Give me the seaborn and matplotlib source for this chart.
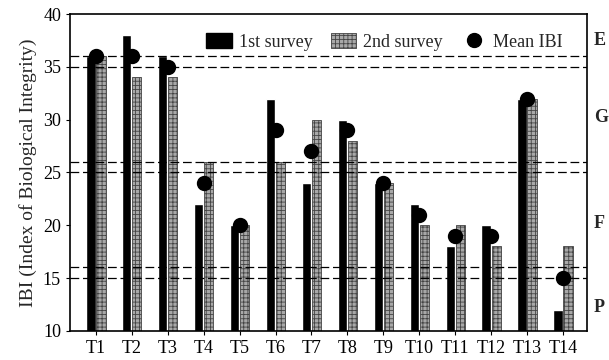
import pandas as pd
import matplotlib.pyplot as plt
import matplotlib.transforms as mtransforms
from matplotlib.patches import Patch
from matplotlib.lines import Line2D
import seaborn as sns

sites = ["T1", "T2", "T3", "T4", "T5", "T6", "T7", "T8", "T9", "T10", "T11", "T12", "T13", "T14"]
survey1 = [36, 38, 36, 22, 20, 32, 24, 30, 24, 22, 18, 20, 32, 12]
survey2 = [36, 34, 34, 26, 20, 26, 30, 28, 24, 20, 20, 18, 32, 18]
mean_ibi = [36, 36, 35, 24, 20, 29, 27, 29, 24, 21, 19, 19, 32, 15]
class_lines = [36, 35, 26, 25, 16, 15]
class_labels = ["E", "G", "F", "P"]
class_label_y = [37.5, 30.2, 20.2, 12.2]

GRAY = "#a8a8a8"

sns.set_style("ticks")
plt.rcParams["font.family"] = ["Liberation Serif", "DejaVu Serif"]
plt.rcParams["hatch.color"] = "#eeeeee"
plt.rcParams["hatch.linewidth"] = 0.6

df = pd.DataFrame({
    "site": sites * 2,
    "ibi": survey1 + survey2,
    "survey": ["1st survey"] * len(sites) + ["2nd survey"] * len(sites),
})

fig = plt.figure(figsize=(6.09, 3.6), dpi=100)
ax = fig.add_axes([0.115, 0.081, 0.849, 0.88])

sns.barplot(data=df, x="site", y="ibi", hue="survey", order=sites,
            palette={"1st survey": "black", "2nd survey": GRAY},
            width=0.56, gap=0.08, errorbar=None, legend=False, ax=ax,
            saturation=1)

# hatch the 2nd survey bars
n = len(sites)
for i, bar in enumerate(ax.patches):
    if i >= n:
        bar.set_hatch("++++")
        bar.set_edgecolor("#444444")
        bar.set_linewidth(0.6)

for y in class_lines:
    ax.axhline(y, color="black", linestyle=(0, (7, 3)), linewidth=0.9, zorder=1)

sns.pointplot(x=sites, y=mean_ibi, order=sites, linestyle="none", marker="o",
              markersize=9, color="black", ax=ax, zorder=5)

ax.set_ylim(10, 40)
ax.set_xlim(-0.72, 13.67)
ax.set_yticks([10, 15, 20, 25, 30, 35, 40])
ax.set_xlabel("")
ax.set_ylabel("IBI (Index of Biological Integrity)", fontsize=14)
ax.tick_params(axis="both", labelsize=13, direction="out", length=3, colors="black")
for s in ax.spines.values():
    s.set_visible(True)
    s.set_color("black")
    s.set_linewidth(1.2)

trans = mtransforms.blended_transform_factory(ax.transAxes, ax.transData)
for lab, y in zip(class_labels, class_label_y):
    ax.text(1.013, y, lab, transform=trans, fontsize=13, fontweight="bold",
            ha="left", va="center")

handles = [
    Patch(facecolor="black", edgecolor="black"),
    Patch(facecolor=GRAY, edgecolor="#444444", hatch="++++", linewidth=0.6),
    Line2D([], [], marker="o", color="black", linestyle="none", markersize=10),
]
ax.legend(handles, ["1st survey", "2nd survey", "Mean IBI"], loc="upper right",
          ncol=3, frameon=False, fontsize=13, handlelength=1.4, handleheight=0.9,
          columnspacing=1.0, handletextpad=0.4, bbox_to_anchor=(0.985, 0.99))

fig.savefig("out.png", dpi=100)
